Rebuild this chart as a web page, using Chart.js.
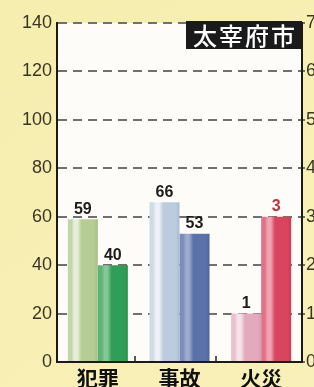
<!DOCTYPE html>
<html><head><meta charset="utf-8">
<script src="https://cdn.jsdelivr.net/npm/chart.js@4"></script>
<style>html,body{margin:0;padding:0;background:#f7f0b4;overflow:hidden}#wrap{width:314px;height:387px;position:relative}</style>
</head><body><div id="wrap"><canvas id="c" width="314" height="387"></canvas></div>
<script>
// ---- data ----
const categories = ['犯罪', '事故', '火災'];
const lightLeft = [59, 66, null];   // left axis (犯罪, 事故)
const darkLeft = [40, 53, null];
const lightRight = [null, null, 1]; // right axis (火災)
const darkRight = [null, null, 3];
const leftTicks = [0, 20, 40, 60, 80, 100, 120, 140];
const rightTicks = [0, 1, 2, 3, 4, 5, 6, 7];
const badgeText = '太宰府市';

// ---- style ----
const lightPal = [
  {base: '#b5cd95', hi: '#e6eedb', edge: '#c3d6a8', dark: '#a3be84'},
  {base: '#bccbdd', hi: '#eef2f7', edge: '#d0dae6', dark: '#a9bbd1'},
  {base: '#e3aabd', hi: '#f5e3ea', edge: '#eac0cf', dark: '#d79cb0'}
];
const darkPal = [
  {base: '#2f9f57', hi: '#86c795', edge: '#5cb476', dark: '#268f4c'},
  {base: '#5b71a9', hi: '#9dabcd', edge: '#7b8dbb', dark: '#4e649c'},
  {base: '#d9455f', hi: '#eea4b3', edge: '#e27188', dark: '#cc3a55'}
];
const CAT_PCT = 0.735, BAR_PCT = 1.0;

function grad(c, isLight) {
  const chart = c.chart;
  const pal = (isLight ? lightPal : darkPal)[c.dataIndex] || lightPal[0];
  const xs = chart.scales && chart.scales.x;
  if (!xs || !isFinite(xs.width) || xs.width <= 0) return pal.base;
  const center = xs.getPixelForValue(c.dataIndex);
  const catW = xs.width / categories.length;
  const barW = catW * CAT_PCT / 2 * BAR_PCT;
  const left = isLight ? center - barW : center;
  const g = chart.ctx.createLinearGradient(left, 0, left + barW, 0);
  g.addColorStop(0, pal.edge);
  g.addColorStop(0.12, pal.edge);
  g.addColorStop(0.22, pal.hi);
  g.addColorStop(0.32, pal.hi);
  g.addColorStop(0.46, pal.base);
  g.addColorStop(0.88, pal.base);
  g.addColorStop(1, pal.dark);
  return g;
}

const bgPlugin = {
  id: 'bg',
  beforeDraw(chart) {
    const {ctx, chartArea: a} = chart;
    ctx.save();
    const g = ctx.createLinearGradient(0, 0, chart.width, chart.height);
    g.addColorStop(0, '#f6eeae');
    g.addColorStop(1, '#f8f0b8');
    ctx.fillStyle = g;
    ctx.fillRect(0, 0, chart.width, chart.height);
    ctx.fillStyle = '#fdfcf9';
    ctx.fillRect(a.left, a.top, a.right - a.left, a.bottom - a.top);
    ctx.restore();
  },
  afterDatasetsDraw(chart) {
    const {ctx, chartArea: a} = chart;
    ctx.save();
    // value labels
    ctx.font = 'bold 16px "Liberation Sans", Arial, sans-serif';
    ctx.textAlign = 'center';
    ctx.textBaseline = 'bottom';
    chart.data.datasets.forEach((ds, di) => {
      const meta = chart.getDatasetMeta(di);
      meta.data.forEach((el, i) => {
        const v = ds.data[i];
        if (v === null || v === undefined) return;
        ctx.fillStyle = ds.labelColor || '#1c1c1c';
        ctx.fillText(String(v), el.x, el.y - 2);
      });
    });
    // category boundary ticks on the baseline
    const xs = chart.scales.x;
    const catW = xs.width / categories.length;
    ctx.strokeStyle = '#222';
    ctx.lineWidth = 1.5;
    for (let i = 0; i < categories.length - 1; i++) {
      const x = Math.round(xs.getPixelForValue(i) + catW / 2) - 4;
      ctx.beginPath();
      ctx.moveTo(x, a.bottom);
      ctx.lineTo(x, a.bottom - 6);
      ctx.stroke();
    }
    ctx.restore();
  },
  afterDraw(chart) {
    const {ctx, chartArea: a} = chart;
    ctx.save();
    // badge
    ctx.font = '500 24px "Noto Sans CJK JP", sans-serif';
    if ('letterSpacing' in ctx) ctx.letterSpacing = '2px';
    const tw = ctx.measureText(badgeText).width;
    const bw = tw + 12, bh = 28;
    const bx = a.right - bw, by = a.top - 2;
    ctx.fillStyle = '#1a1a1a';
    ctx.fillRect(bx, by, bw, bh);
    ctx.fillStyle = '#ffffff';
    ctx.textAlign = 'left';
    ctx.textBaseline = 'middle';
    ctx.fillText(badgeText, bx + 7, by + bh / 2 + 1);
    ctx.restore();
  }
};

const tickFont = {family: '"Liberation Sans", Arial, sans-serif', size: 18};

new Chart(document.getElementById('c'), {
  type: 'bar',
  data: {
    labels: categories,
    datasets: [
      {data: lightLeft, yAxisID: 'y', backgroundColor: c => grad(c, true)},
      {data: darkLeft, yAxisID: 'y', backgroundColor: c => grad(c, false)},
      {data: lightRight, yAxisID: 'y1', backgroundColor: c => grad(c, true)},
      {data: darkRight, yAxisID: 'y1', backgroundColor: c => grad(c, false), labelColor: '#c2303e'}
    ]
  },
  options: {
    responsive: false,
    animation: false,
    events: [],
    skipNull: true,
    categoryPercentage: CAT_PCT,
    barPercentage: BAR_PCT,
    layout: {padding: {top: 23, left: 0, right: 0, bottom: 0}},
    plugins: {legend: {display: false}, tooltip: {enabled: false}},
    scales: {
      x: {
        grid: {display: false},
        border: {display: true, color: '#1a1a1a', width: 2},
        ticks: {color: '#111', font: {family: '"Noto Sans CJK JP", sans-serif', size: 21, weight: 'bold'}, padding: -5},
        afterFit(s) { s.height = 25; }
      },
      y: {
        position: 'left',
        min: 0, max: 140,
        afterBuildTicks(s) { s.ticks = leftTicks.map(v => ({value: v})); },
        grid: {color: '#707070', lineWidth: 2, drawTicks: false},
        border: {display: true, color: '#1a1a1a', width: 2, dash: [9, 6]},
        ticks: {color: '#3a3626', font: tickFont, padding: 5},
        afterFit(s) { s.width = 57; }
      },
      y1: {
        position: 'right',
        min: 0, max: 7,
        afterBuildTicks(s) { s.ticks = rightTicks.map(v => ({value: v})); },
        grid: {drawOnChartArea: false, drawTicks: true, tickLength: 3, color: '#707070', lineWidth: 2},
        border: {display: true, color: '#1a1a1a', width: 2},
        ticks: {color: '#3a3626', font: tickFont, padding: 1},
        afterFit(s) { s.width = 12; }
      }
    }
  },
  plugins: [bgPlugin]
});
</script>
</body></html>
